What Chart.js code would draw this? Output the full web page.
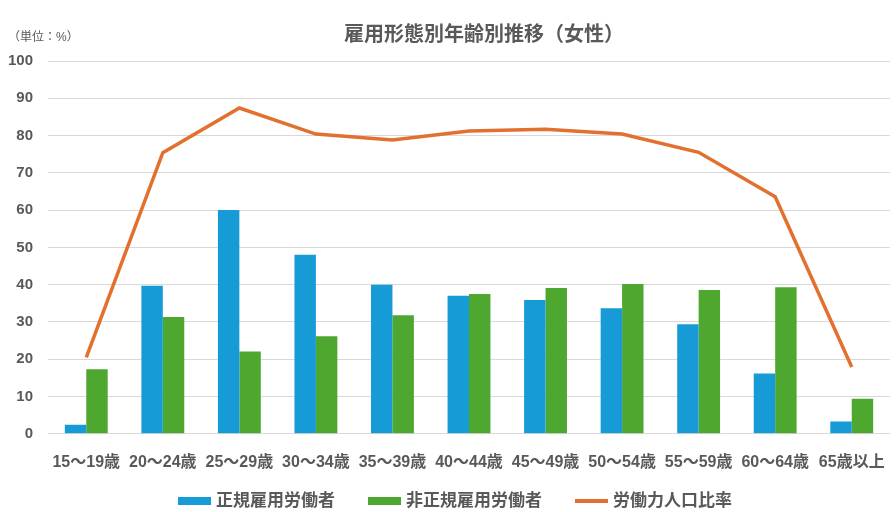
<!DOCTYPE html>
<html>
<head>
<meta charset="utf-8">
<script src="https://cdn.jsdelivr.net/npm/chart.js@4/dist/chart.umd.min.js"></script>
<style>
  html, body { margin: 0; padding: 0; background: #fff; }
  #wrap { width: 896px; height: 512px; }
</style>
</head>
<body>
<div id="wrap"><canvas id="chart"></canvas></div>
<script>
// Data
const ageGroups = ["15〜19歳", "20〜24歳", "25〜29歳", "30〜34歳", "35〜39歳", "40〜44歳",
  "45〜49歳", "50〜54歳", "55〜59歳", "60〜64歳", "65歳以上"];
const regularWorkers = [2.4, 39.7, 60.0, 48.0, 40.0, 37.0, 35.9, 33.7, 29.4, 16.2, 3.3];
const nonRegularWorkers = [17.3, 31.3, 22.1, 26.2, 31.8, 37.5, 39.1, 40.2, 38.6, 39.3, 9.4];
const laborForceRatio = [20.5, 75.4, 87.4, 80.4, 78.8, 81.2, 81.7, 80.4, 75.5, 63.6, 17.9];

const chartTitle = "雇用形態別年齢別推移（女性）";
const unitLabel = "（単位：%）";

const textColor = "#595959";
const fontFamily = "'Liberation Sans', 'Noto Sans CJK JP', sans-serif";

// Title, unit note and legend drawn on the canvas
const headerAndLegend = {
  id: "headerAndLegend",
  afterDraw(chart) {
    const c = chart.ctx;
    c.save();
    c.fillStyle = textColor;
    c.textBaseline = "middle";

    c.font = "bold 20px " + fontFamily;
    c.textAlign = "center";
    c.fillText(chartTitle, 484, 35);

    c.font = "12px " + fontFamily;
    c.textAlign = "left";
    c.fillText(unitLabel, 8, 38);

    // legend
    c.font = "bold 17px " + fontFamily;
    const items = chart.data.datasets.map((ds) => ({
      text: ds.label,
      color: ds.type === "line" ? ds.borderColor : ds.backgroundColor,
      isLine: ds.type === "line"
    }));
    const boxW = 33, gapText = 5, gapItem = 33;
    let total = 0;
    items.forEach((it, i) => {
      it.w = c.measureText(it.text).width;
      total += boxW + gapText + it.w + (i < items.length - 1 ? gapItem : 0);
    });
    let x = 455 - total / 2;
    const y = 501;
    items.forEach((it) => {
      c.fillStyle = it.color;
      if (it.isLine) {
        c.fillRect(x, y - 2, boxW, 4);
      } else {
        c.fillRect(x, y - 4, boxW, 8);
      }
      c.fillStyle = textColor;
      c.fillText(it.text, x + boxW + gapText, y);
      x += boxW + gapText + it.w + gapItem;
    });
    c.restore();
  }
};

const ctx = document.getElementById("chart").getContext("2d");
const myChart = new Chart(ctx, {
  data: {
    labels: ageGroups,
    datasets: [
      {
        type: "bar",
        label: "正規雇用労働者",
        backgroundColor: "#169BD6",
        data: regularWorkers,
        categoryPercentage: 0.56,
        barPercentage: 1.0
      },
      {
        type: "bar",
        label: "非正規雇用労働者",
        backgroundColor: "#4EA72E",
        data: nonRegularWorkers,
        categoryPercentage: 0.56,
        barPercentage: 1.0
      },
      {
        type: "line",
        label: "労働力人口比率",
        borderColor: "#E2702F",
        backgroundColor: "#E2702F",
        borderWidth: 3.5,
        pointRadius: 0,
        tension: 0,
        data: laborForceRatio
      }
    ]
  },
  options: {
    responsive: true,
    maintainAspectRatio: false,
    animation: false,
    layout: {
      padding: { top: 61, right: 6, bottom: 29, left: 0 }
    },
    scales: {
      x: {
        afterFit: (scale) => { scale.paddingLeft = 0; scale.paddingRight = 0; },
        grid: { display: false },
        border: { display: false },
        ticks: {
          color: textColor,
          font: { family: fontFamily, size: 16, weight: "bold" },
          padding: 11,
          maxRotation: 0,
          autoSkip: false
        }
      },
      y: {
        min: 0,
        max: 100,
        afterFit: (scale) => { scale.width = 48; },
        grid: { color: "#d9d9d9", drawTicks: false },
        border: { display: false },
        ticks: {
          stepSize: 10,
          color: textColor,
          font: { family: fontFamily, size: 15, weight: "bold" },
          padding: 15
        }
      }
    },
    plugins: {
      legend: { display: false },
      title: { display: false },
      tooltip: { enabled: false }
    }
  },
  plugins: [headerAndLegend]
});
</script>
</body>
</html>
